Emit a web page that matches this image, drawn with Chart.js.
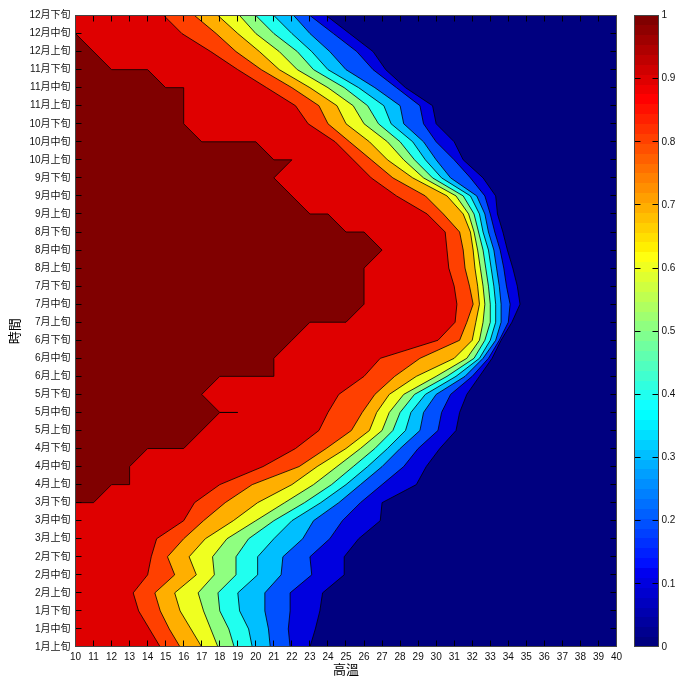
<!DOCTYPE html>
<html>
<head>
<meta charset="utf-8">
<script src="https://cdn.jsdelivr.net/npm/chart.js@4/dist/chart.umd.min.js"></script>
<style>
  html, body { margin: 0; padding: 0; background: #fff; }
  #wrap { position: relative; width: 676px; height: 677px; }
  #main { position: absolute; left: 0; top: 0; }
  #bar { position: absolute; left: 600px; top: 0; }
</style>
</head>
<body>
<div id="wrap">
  <canvas id="main" width="676" height="677"></canvas>
  <canvas id="bar" width="76" height="677"></canvas>
</div>
<script>
// rows: ten-day periods, bottom to top
const periods = [
  '1月上旬', '1月中旬', '1月下旬', '2月上旬', '2月中旬', '2月下旬',
  '3月上旬', '3月中旬', '3月下旬', '4月上旬', '4月中旬', '4月下旬',
  '5月上旬', '5月中旬', '5月下旬', '6月上旬', '6月中旬', '6月下旬',
  '7月上旬', '7月中旬', '7月下旬', '8月上旬', '8月中旬', '8月下旬',
  '9月上旬', '9月中旬', '9月下旬', '10月上旬', '10月中旬', '10月下旬',
  '11月上旬', '11月中旬', '11月下旬', '12月上旬', '12月中旬', '12月下旬'
];
const X_MIN = 10, X_MAX = 40;

// temperature where each contour level crosses each period (one value per row)
const c09 = [14.7, 14.1, 13.5, 13.2, 14.0, 14.2, 14.5, 16.0, 16.6, 18.0, 20.4, 22.2, 23.5, 24.0, 24.6, 26.0, 26.9, 30.1, 31.05, 31.15, 31.0, 30.7, 30.6, 30.5, 29.5, 27.8, 26.4, 25.4, 24.4, 22.9, 22.2, 20.6, 19.0, 17.5, 15.9, 14.9];
const c08 = [15.8, 15.2, 14.7, 14.4, 15.5, 15.1, 16.0, 17.1, 18.3, 19.8, 22.4, 23.9, 25.3, 25.9, 26.6, 27.7, 29.1, 31.3, 31.7, 32.05, 31.85, 31.6, 31.5, 31.3, 30.4, 29.4, 27.6, 26.4, 25.2, 24.0, 23.5, 22.0, 20.3, 18.9, 17.8, 16.6];
const c07 = [17.0, 16.4, 15.8, 15.5, 16.7, 16.3, 17.2, 18.75, 20.1, 22.0, 23.4, 25.0, 26.3, 26.7, 27.4, 28.9, 31.0, 32.0, 32.2, 32.4, 32.3, 32.15, 32.05, 31.9, 31.5, 30.6, 28.7, 27.3, 26.3, 25.0, 24.5, 23.0, 21.3, 20.2, 19.0, 17.9];
const c06 = [17.9, 17.5, 17.1, 16.8, 17.7, 17.6, 18.4, 20.0, 21.6, 23.2, 24.5, 25.8, 27.0, 27.4, 28.2, 30.0, 31.7, 32.4, 32.6, 32.7, 32.6, 32.45, 32.3, 32.1, 31.8, 31.1, 29.3, 28.2, 27.3, 26.0, 25.4, 24.0, 22.3, 21.3, 20.0, 19.1];
const c05 = [18.8, 18.5, 18.0, 17.9, 18.9, 18.9, 19.6, 21.0, 22.7, 24.2, 25.4, 26.6, 27.6, 28.0, 28.8, 30.6, 32.1, 32.7, 33.0, 33.0, 32.9, 32.75, 32.6, 32.35, 32.1, 31.5, 29.8, 28.8, 28.0, 26.8, 26.2, 24.9, 23.2, 22.3, 21.0, 20.0];
const c04 = [19.8, 19.6, 19.1, 19.0, 20.1, 20.1, 21.0, 22.0, 23.6, 25.0, 26.2, 27.3, 28.3, 28.6, 29.4, 31.1, 32.4, 33.0, 33.3, 33.3, 33.2, 33.05, 32.9, 32.6, 32.4, 31.9, 30.3, 29.4, 28.7, 27.5, 27.1, 25.7, 24.0, 23.1, 22.0, 21.0];
const c03 = [20.8, 20.7, 20.5, 20.5, 21.4, 21.5, 22.6, 23.2, 24.6, 25.8, 27.0, 28.0, 29.1, 29.3, 30.0, 31.6, 32.6, 33.3, 33.6, 33.6, 33.5, 33.35, 33.2, 32.9, 32.7, 32.25, 30.8, 30.0, 29.3, 28.2, 28.0, 26.6, 25.0, 24.1, 23.0, 22.1];
const c02 = [21.9, 21.8, 21.9, 21.9, 23.1, 23.0, 24.1, 24.8, 25.8, 27.0, 28.2, 29.0, 30.1, 30.3, 30.8, 32.0, 32.9, 33.5, 34.0, 34.1, 33.9, 33.75, 33.55, 33.25, 33.0, 32.7, 31.9, 31.0, 30.0, 29.3, 29.1, 27.8, 26.5, 25.6, 24.3, 23.0];
const c01 = [23.0, 23.3, 23.55, 23.7, 24.9, 24.9, 25.7, 26.9, 27.0, 28.9, 29.45, 30.2, 31.1, 31.3, 31.7, 32.4, 33.1, 33.6, 34.2, 34.65, 34.5, 34.25, 33.95, 33.7, 33.4, 33.3, 32.6, 31.5, 31.0, 30.0, 29.8, 28.3, 27.2, 26.5, 25.2, 23.9];
// level 1.0 (probability reaches 1): outline of the dark red region
const c10X = [10, 10, 11, 12, 13, 13, 14, 16, 18, 19, 18, 17, 18, 21, 21, 22, 23, 25, 26, 26, 27, 26, 25, 24, 23, 21, 22, 21, 20, 17, 16, 16, 15, 14, 12, 10, 10];
const c10Y = [0, 8, 8, 9, 9, 10, 11, 11, 13, 13, 13, 14, 15, 15, 16, 17, 18, 18, 19, 21, 22, 23, 23, 24, 24, 26, 27, 27, 28, 28, 29, 31, 31, 32, 32, 34, 35];

const levels = [0.1, 0.2, 0.3, 0.4, 0.5, 0.6, 0.7, 0.8, 0.9];
const crossings = [c01, c02, c03, c04, c05, c06, c07, c08, c09];

// MATLAB jet(64)
function jet64() {
  const n = 16, u = [];
  for (let k = 1; k <= n; k++) u.push(k / n);
  for (let k = 1; k < n; k++) u.push(1);
  for (let k = n; k >= 1; k--) u.push(k / n);
  const ch = (i, off) => { const k = i - off; return k >= 1 && k <= u.length ? u[k - 1] : 0; };
  const out = [];
  for (let i = 1; i <= 64; i++) {
    const c = [ch(i, 24), ch(i, 8), ch(i, -7)].map(v => Math.round(v * 255));
    out.push(`rgb(${c[0]},${c[1]},${c[2]})`);
  }
  return out;
}
const jet = jet64();
const bandColor = lv => jet[Math.min(63, Math.floor(lv * 64 + 1e-9))];

const font = "'Liberation Sans', Arial, 'Noto Sans CJK TC', sans-serif";
const ROW_MAX = periods.length - 1;

// region left of a contour, closed just outside the plot so only the contour is stroked
function region(xs, ys, lv) {
  const pts = xs.map((x, i) => ({ x, y: ys[i] }));
  pts.push({ x: X_MIN - 1, y: ROW_MAX + 1 }, { x: X_MIN - 1, y: -1 });
  return {
    data: pts,
    backgroundColor: bandColor(lv),
    borderColor: '#000',
    borderWidth: 0.8,
    pointRadius: 0,
    tension: 0,
    fill: 'shape',
    order: Math.round(20 - lv * 10)
  };
}
const rowIdx = periods.map((p, i) => i);
const datasets = levels.map((lv, i) => region(crossings[i], rowIdx, lv));
datasets.push(region(c10X, c10Y, 1));

const frame = {
  id: 'frame',
  afterDraw(chart, args, o) {
    const { ctx, chartArea: a, scales } = chart;
    const s = v => Math.floor(v - 0.01) + 0.5;
    const L = s(a.left), R = s(a.right), T = s(a.top), B = s(a.bottom);
    ctx.save();
    ctx.lineWidth = 1;
    ctx.strokeStyle = '#000';
    ctx.beginPath();
    if (o.xTicks) {
      for (const t of scales.x.ticks) {
        const p = s(scales.x.getPixelForValue(t.value));
        ctx.moveTo(p, B); ctx.lineTo(p, B - o.len);
        ctx.moveTo(p, T); ctx.lineTo(p, T + o.len);
      }
    }
    for (const t of scales.y.ticks) {
      const p = s(scales.y.getPixelForValue(t.value));
      ctx.moveTo(L, p); ctx.lineTo(L + o.len, p);
      ctx.moveTo(R, p); ctx.lineTo(R - o.len, p);
    }
    ctx.stroke();
    ctx.strokeStyle = '#444';
    ctx.strokeRect(L, T, R - L, B - T);
    ctx.restore();
  }
};

const plotBg = {
  id: 'plotBg',
  beforeDatasetsDraw(chart) {
    const { ctx, chartArea: a } = chart;
    ctx.save();
    ctx.fillStyle = bandColor(0);
    ctx.fillRect(a.left, a.top, a.right - a.left, a.bottom - a.top);
    ctx.restore();
  }
};

new Chart(document.getElementById('main'), {
  type: 'line',
  data: { datasets },
  plugins: [plotBg, frame],
  options: {
    responsive: false,
    animation: false,
    devicePixelRatio: 1,
    indexAxis: 'y',
    layout: { padding: { left: 0, top: 15.5, right: 59.5, bottom: 0 }, autoPadding: false },
    plugins: {
      legend: { display: false },
      tooltip: { enabled: false },
      frame: { len: 6, xTicks: true }
    },
    scales: {
      x: {
        type: 'linear', min: X_MIN, max: X_MAX,
        grid: { display: false, drawTicks: false },
        border: { display: false },
        ticks: { stepSize: 1, autoSkip: false, maxRotation: 0, padding: 4, color: '#111', font: { family: font, size: 10 } },
        title: { display: true, text: '高溫', color: '#000', padding: { top: 0, bottom: 0 }, font: { family: font, size: 13, lineHeight: 1 } },
        afterFit: s => { s.height = 30; }
      },
      y: {
        type: 'linear', min: 0, max: ROW_MAX,
        grid: { display: false, drawTicks: false },
        border: { display: false },
        ticks: { stepSize: 1, autoSkip: false, padding: 5, color: '#111', font: { family: font, size: 10 }, callback: v => periods[v] },
        title: { display: true, text: '時間', color: '#000', padding: { top: 8.5, bottom: 0 }, font: { family: font, size: 13, lineHeight: 1 } },
        afterFit: s => { s.width = 75.5; }
      }
    }
  }
});

// colour bar
new Chart(document.getElementById('bar'), {
  type: 'bar',
  data: {
    labels: ['p'],
    datasets: [{
      data: [[0, 1]],
      borderWidth: 0,
      barPercentage: 1,
      categoryPercentage: 1,
      backgroundColor(c) {
        const a = c.chart.chartArea;
        if (!a) return jet[32];
        const g = c.chart.ctx.createLinearGradient(0, a.bottom, 0, a.top);
        jet.forEach((col, i) => { g.addColorStop(i / 64, col); g.addColorStop((i + 1) / 64, col); });
        return g;
      }
    }]
  },
  plugins: [frame],
  options: {
    responsive: false,
    animation: false,
    devicePixelRatio: 1,
    layout: { padding: { left: 34.5, top: 15.5, right: 0, bottom: 30 }, autoPadding: false },
    plugins: {
      legend: { display: false },
      tooltip: { enabled: false },
      frame: { len: 6, xTicks: false }
    },
    scales: {
      x: { display: false },
      y: {
        position: 'right', min: 0, max: 1,
        grid: { display: false, drawTicks: false },
        border: { display: false },
        ticks: { stepSize: 0.1, padding: 3, color: '#111', font: { family: font, size: 10 }, callback: v => String(+v.toFixed(1)) },
        afterFit: s => { s.width = 17.5; }
      }
    }
  }
});
</script>
</body>
</html>
